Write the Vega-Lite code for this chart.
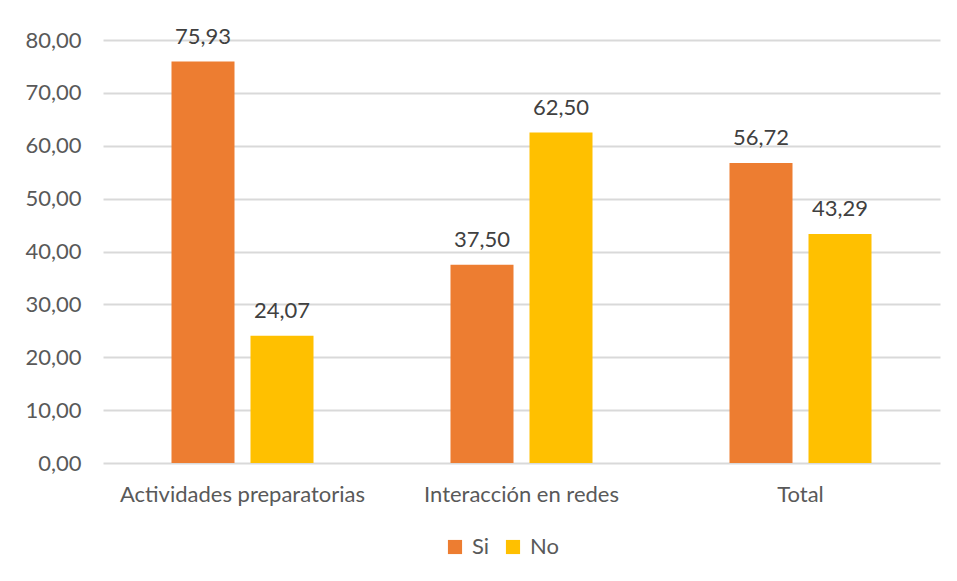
{
  "$schema": "https://vega.github.io/schema/vega-lite/v6.json",
  "width": 837,
  "height": 423,
  "autosize": {"type": "none"},
  "padding": {"left": 103, "top": 40, "right": 17, "bottom": 118},
  "background": "white",
  "config": {
    "locale": {"number": {"decimal": ",", "thousands": ".", "grouping": [3], "currency": ["", " €"]}},
    "view": {"stroke": null},
    "font": "Lato"
  },
  "data": {
    "values": [
      {"categoria": "Actividades preparatorias", "respuesta": "Si", "valor": 75.93},
      {"categoria": "Actividades preparatorias", "respuesta": "No", "valor": 24.07},
      {"categoria": "Interacción en redes", "respuesta": "Si", "valor": 37.50},
      {"categoria": "Interacción en redes", "respuesta": "No", "valor": 62.50},
      {"categoria": "Total", "respuesta": "Si", "valor": 56.72},
      {"categoria": "Total", "respuesta": "No", "valor": 43.29}
    ]
  },
  "encoding": {
    "x": {
      "field": "categoria", "type": "nominal", "sort": null,
      "scale": {"paddingInner": 0, "paddingOuter": 0},
      "axis": {"title": null, "labelAngle": 0, "labelFontSize": 22, "labelLimit": 0, "labelColor": "#595959", "labelPadding": 21, "ticks": false, "domain": false, "labelFont": "Lato"}
    },
    "xOffset": {"field": "respuesta", "type": "nominal", "sort": ["Si", "No"], "scale": {"paddingInner": 0.2025, "paddingOuter": 0.867}},
    "y": {
      "field": "valor", "type": "quantitative",
      "scale": {"domain": [0, 80]},
      "axis": {"title": null, "values": [0, 10, 20, 30, 40, 50, 60, 70, 80], "format": ".2f", "labelFontSize": 22, "labelColor": "#595959", "labelPadding": 22, "ticks": false, "domain": false, "gridColor": "#d9d9d9", "gridWidth": 1.8, "labelFont": "Lato"}
    }
  },
  "layer": [
    {
      "mark": {"type": "bar"},
      "encoding": {
        "color": {
          "field": "respuesta", "type": "nominal", "sort": ["Si", "No"],
          "scale": {"domain": ["Si", "No"], "range": ["#ED7D31", "#FFC000"]},
          "legend": {"title": null, "orient": "none", "legendX": 341, "legendY": 496, "direction": "horizontal", "symbolType": "square", "symbolSize": 200, "symbolStrokeWidth": 0, "labelFontSize": 22, "labelColor": "#595959", "columnPadding": 12, "labelOffset": 6, "labelFont": "Lato"}
        }
      }
    },
    {
      "mark": {"type": "text", "baseline": "bottom", "dy": -13, "fontSize": 22, "color": "#404040", "font": "Lato"},
      "encoding": {
        "text": {"field": "valor", "type": "quantitative", "format": ".2f"}
      }
    }
  ]
}
